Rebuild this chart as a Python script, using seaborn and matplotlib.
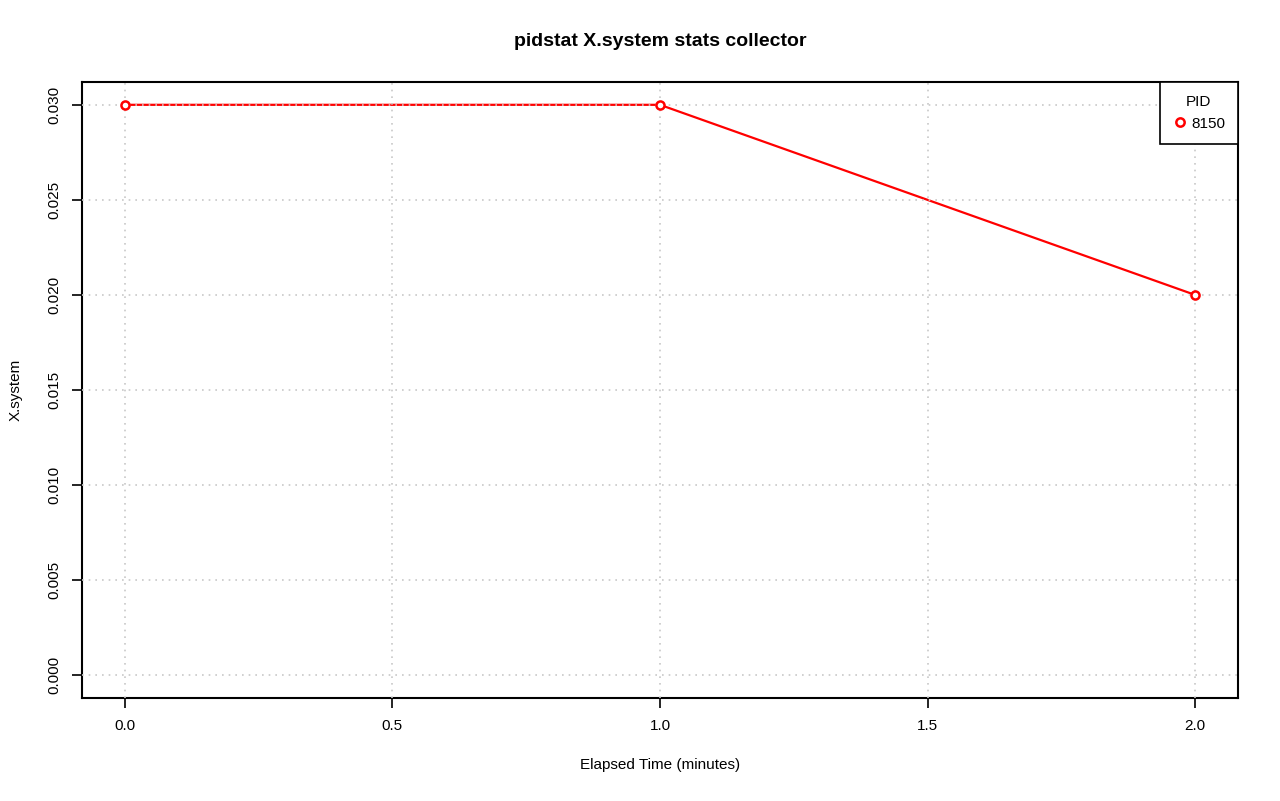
import pandas as pd
import matplotlib
matplotlib.use("Agg")
import matplotlib.pyplot as plt
import seaborn as sns

# data
elapsed = [0.0, 1.0, 2.0]
xsystem = [0.030, 0.030, 0.020]
pids = ["8150", "8150", "8150"]
x_ticks = [0.0, 0.5, 1.0, 1.5, 2.0]
y_ticks = [0.000, 0.005, 0.010, 0.015, 0.020, 0.025, 0.030]

df = pd.DataFrame({"Elapsed": elapsed, "X.system": xsystem, "PID": pids})

sns.set_style("white")
plt.rcParams["font.family"] = ["Liberation Sans", "DejaVu Sans"]
plt.rcParams["text.color"] = "black"
plt.rcParams["axes.labelcolor"] = "black"
plt.rcParams["xtick.color"] = "black"
plt.rcParams["ytick.color"] = "black"

fig = plt.figure(figsize=(12.8, 8.01), dpi=100)
ax = fig.add_axes([82 / 1280, 1 - 698 / 801, (1238 - 82) / 1280, (698 - 82) / 801])

sns.lineplot(data=df, x="Elapsed", y="X.system", hue="PID", palette=["red"],
             ax=ax, linewidth=1.6, legend=False, zorder=2)
sns.scatterplot(data=df, x="Elapsed", y="X.system", ax=ax, marker="o", s=34,
                facecolor="white", edgecolor="red", linewidth=1.8, zorder=4,
                legend=False)

ax.set_xlim(-0.08, 2.08)
ax.set_ylim(-0.0012, 0.0312)
ax.set_xticks(x_ticks)
ax.set_xticklabels([f"{v:.1f}" for v in x_ticks])
ax.set_yticks(y_ticks)
ax.set_yticklabels([f"{v:.3f}" for v in y_ticks], rotation=90, va="center")

for v in x_ticks:
    ax.axvline(v, color="#c8c8c8", linestyle=(0, (1, 3)), linewidth=1.2, zorder=3)
for v in y_ticks:
    ax.axhline(v, color="#c8c8c8", linestyle=(0, (1, 3)), linewidth=1.2, zorder=3)

for s in ax.spines.values():
    s.set_visible(True)
    s.set_color("black")
    s.set_linewidth(1.5)
ax.tick_params(direction="out", length=7, width=1.2, colors="black",
               labelsize=11, pad=8, bottom=True, left=True)

ax.set_xlabel("Elapsed Time (minutes)", fontsize=11, labelpad=18)
ax.set_ylabel("X.system", fontsize=11, labelpad=18)
fig.suptitle("pidstat X.system stats collector", fontsize=14, fontweight="bold",
             y=1 - 42 / 801, va="center", x=(82 + 1238) / 2 / 1280, color="black")

handle = plt.Line2D([], [], marker="o", linestyle="none", markerfacecolor="white",
                    markeredgecolor="red", markeredgewidth=1.8, markersize=6)
leg = ax.legend([handle], ["8150"], title="PID", loc="upper right",
                bbox_to_anchor=(1.0, 1.0), borderaxespad=0, frameon=True,
                fancybox=False, fontsize=11, title_fontsize=11,
                handlelength=0.9, handletextpad=0.3, borderpad=0.85)
leg.get_frame().set_edgecolor("black")
leg.get_frame().set_linewidth(1.2)
leg.get_frame().set_alpha(1)

fig.savefig("out.png", dpi=100, facecolor="white")
